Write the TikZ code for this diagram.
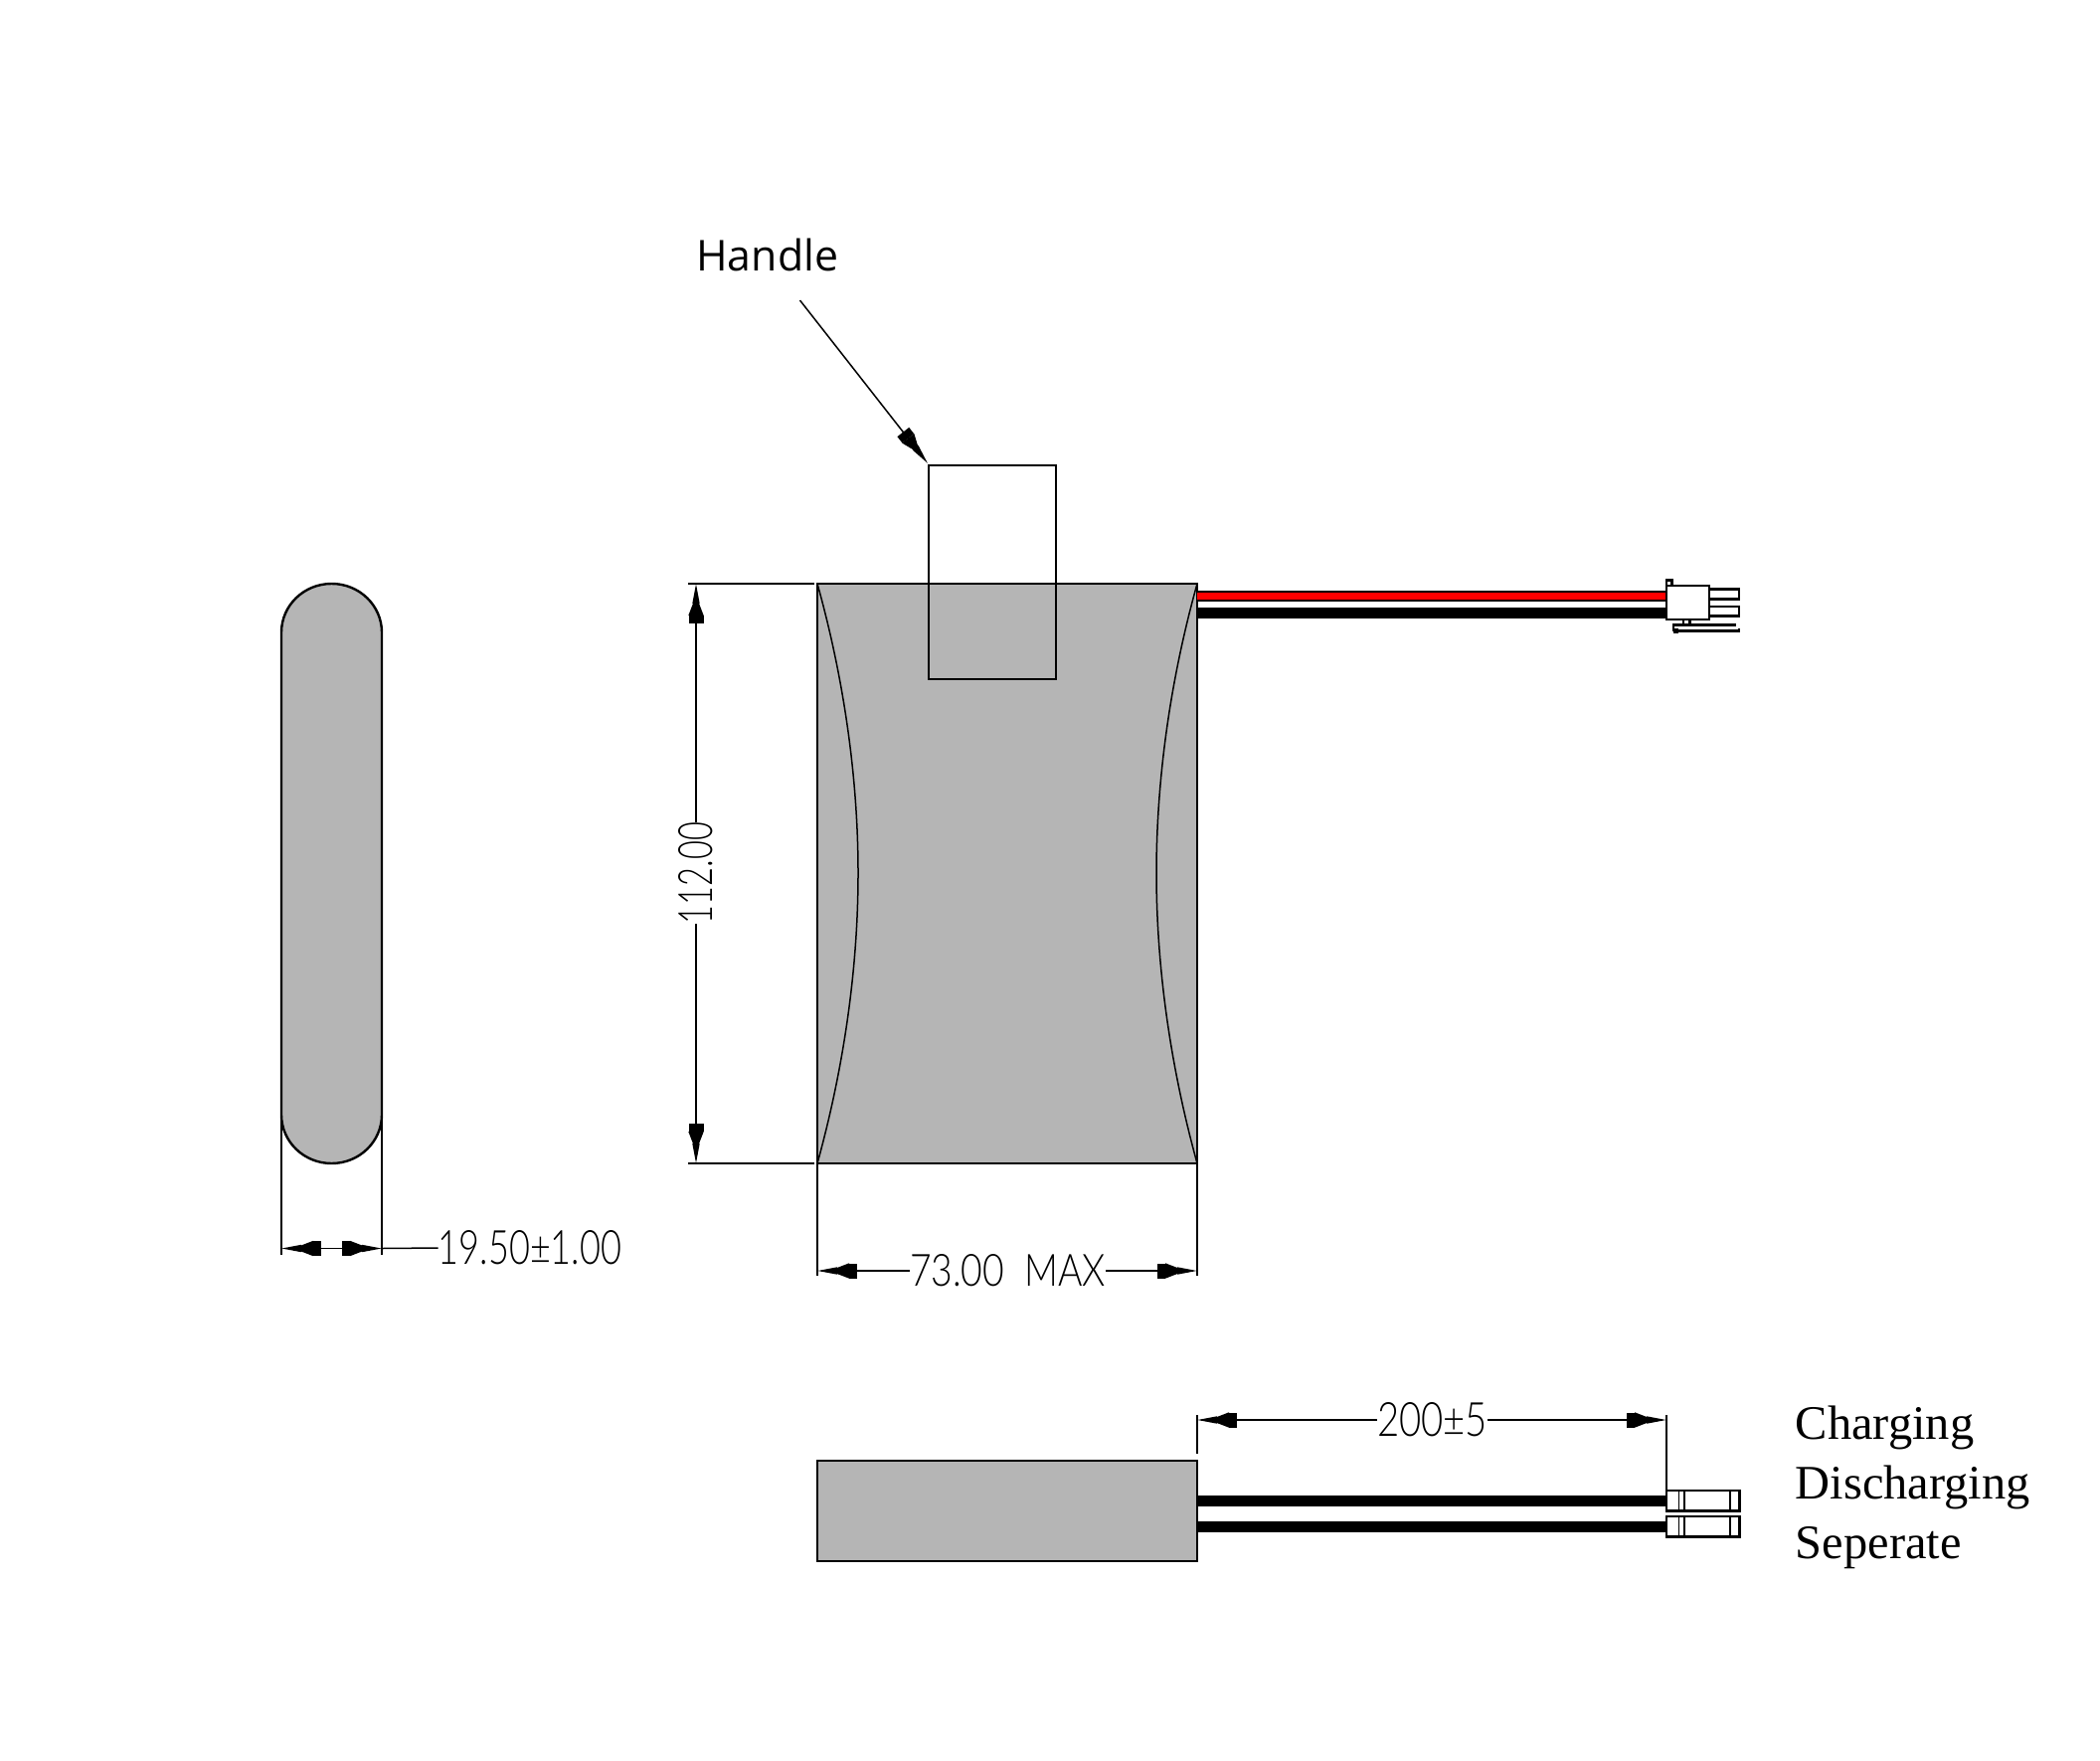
\documentclass[tikz,border=0pt]{standalone}
\usepackage{fontspec}
\usepackage{graphicx}
\usetikzlibrary{arrows.meta}
\setmainfont{Liberation Serif}
\newfontfamily\handlefont{Open Sans}
\newfontfamily\dimfont{Lato}[UprightFont=* Light]
\definecolor{bodygray}{HTML}{B5B5B5}
\definecolor{wirered}{HTML}{FF0000}
\newcommand{\dimtext}[3]{\resizebox{#1}{#2}{\dimfont #3}}
\tikzset{
	outline/.style={draw=black,line width=1.2pt},
	thin line/.style={draw=black,line width=0.75pt},
	cell/.style={outline,fill=bodygray},
	dimtip/.style={-{Rectangle[length=4pt,width=7.5pt,sep=0pt]Triangle[length=10pt,width=7.5pt,sep=-4pt]Triangle[length=10pt,width=3.5pt]},thin line},
	note/.style={font=\fontsize{24.2pt}{24.2pt}\selectfont,anchor=base west,inner sep=0pt}
}
\begin{document}
\begin{tikzpicture}[x=0.5pt,y=-0.5pt]
	\useasboundingbox (0,0) rectangle (2112,1770);
	% end view
	\draw[cell] (283,636) arc[start angle=180,end angle=360,x radius=50.5,y radius=49]
		-- (384,1121) arc[start angle=0,end angle=180,x radius=50.5,y radius=49] -- cycle;
	% front view
	\draw[cell] (822,587) rectangle (1204,1170);
	\draw[thin line] (822,587) .. controls (848,680) and (863,780) .. (863,878)
		.. controls (863,976) and (848,1076) .. (822,1170);
	\draw[thin line] (1204,587) .. controls (1178,680) and (1163,780) .. (1163,878)
		.. controls (1163,976) and (1178,1076) .. (1204,1170);
	\draw[outline] (934,468) rectangle (1062,683);
	% wires
	\fill[black] (1204,594) rectangle (1676,605);
	\fill[wirered] (1204,596) rectangle (1676,603);
	\fill[black] (1204,611) rectangle (1676,622);
	% connector
	\draw[outline] (1676,583.5) rectangle (1681.5,589);
	\draw[outline] (1676,589) rectangle (1719,623);
	\draw[outline] (1719,592.5) rectangle (1749,602.5);
	\draw[outline] (1719,610) rectangle (1749,619.5);
	\draw[outline] (1693,623) rectangle (1699.5,628.5);
	\draw[outline] (1683,635) -- (1683,628.5) -- (1745.5,628.5);
	\draw[outline] (1683,634.5) -- (1749,634.5) -- (1749,632);
	\fill[black] (1683,632) rectangle (1688,637);
	% side view
	\draw[cell] (822,1469) rectangle (1204,1570);
	\fill[black] (1204,1504) rectangle (1676,1515);
	\fill[black] (1204,1530) rectangle (1676,1541);
	\draw[outline] (1676,1499) rectangle (1749.5,1519.5);
	\draw[outline] (1676,1525) rectangle (1749.5,1545.5);
	\foreach \xpos in {1688.5,1694,1740}
		\draw[thin line] (\xpos,1499) -- (\xpos,1519.5) (\xpos,1525) -- (\xpos,1545.5);
	% handle label
	\node[font=\handlefont\fontsize{21.4pt}{21.4pt}\selectfont,anchor=base west,inner sep=0pt]
		(handlelabel) at (700,272.5) {Handle};
	\coordinate (handlefrom) at (804.5,302);
	\coordinate (handletip) at (933,466);
	\draw[dimtip] (handlefrom) -- (handletip);
	% width of end view
	\coordinate (enda) at (283,1255.5);
	\coordinate (endb) at (384,1255.5);
	\coordinate (endmid) at (333.5,1255.5);
	\node[inner sep=0pt] (endlabel) at (533,1255) {\dimtext{92pt}{17pt}{19.50±1.00}};
	\draw[thin line] (283,1121) -- (283,1262);
	\draw[thin line] (384,1121) -- (384,1262);
	\draw[thin line] (endlabel.west) -- (endb);
	\draw[dimtip] (endmid) -- (enda);
	\draw[dimtip] (endmid) -- (endb);
	% width of front view
	\coordinate (fronta) at (822,1278);
	\coordinate (frontb) at (1204,1278);
	\node[inner sep=0pt] (frontlabel) at (1013.5,1278) {\dimtext{98.5pt}{16pt}{73.00~~MAX}};
	\draw[thin line] (822,1170) -- (822,1283);
	\draw[thin line] (1204,1170) -- (1204,1283);
	\draw[dimtip] (frontlabel.west) -- (fronta);
	\draw[dimtip] (frontlabel.east) -- (frontb);
	% height of front view
	\coordinate (heighta) at (700,587);
	\coordinate (heightb) at (700,1170);
	\node[inner sep=0pt,rotate=90] (heightlabel) at (700,878) {\dimtext{51pt}{17pt}{112.00}};
	\draw[thin line] (692,587) -- (819,587);
	\draw[thin line] (692,1170) -- (819,1170);
	\draw[dimtip] (heightlabel.east) -- (heighta);
	\draw[dimtip] (heightlabel.west) -- (heightb);
	% cable length
	\coordinate (cablea) at (1204,1428);
	\coordinate (cableb) at (1676,1428);
	\node[inner sep=0pt] (cablelabel) at (1440.5,1428) {\dimtext{55.5pt}{17pt}{200±5}};
	\draw[thin line] (1204,1423) -- (1204,1462);
	\draw[thin line] (1676,1423) -- (1676,1499);
	\draw[dimtip] (cablelabel.west) -- (cablea);
	\draw[dimtip] (cablelabel.east) -- (cableb);
	% notes
	\node[note] (chargelabel) at (1805.5,1447.5) {Charging};
	\node[note] (dischargelabel) at (1805.5,1507) {Discharging};
	\node[note] (seperatelabel) at (1805.5,1567.5) {Seperate};
\end{tikzpicture}
\end{document}
